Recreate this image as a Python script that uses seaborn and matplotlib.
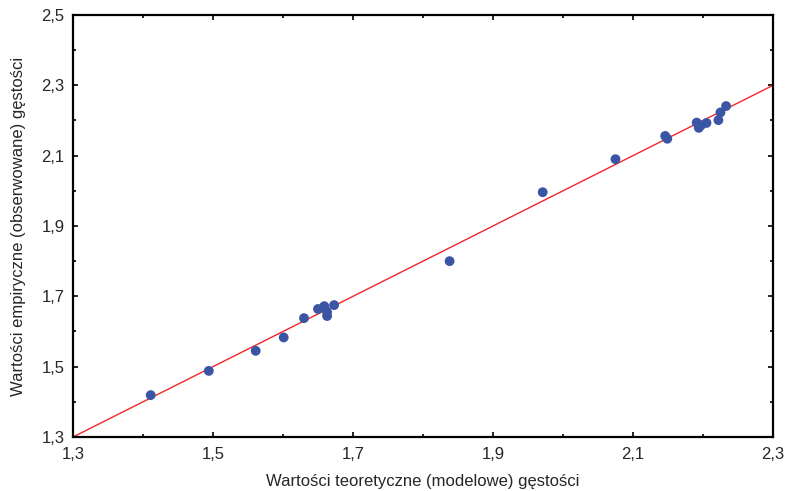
import matplotlib
matplotlib.use("Agg")
import matplotlib.pyplot as plt
import matplotlib.ticker as mticker
import seaborn as sns
import pandas as pd

# Values
teoretyczne = [1.411, 1.494, 1.561, 1.601, 1.630, 1.650, 1.659, 1.663, 1.663, 1.673,
               1.838, 1.971, 2.075, 2.146, 2.149, 2.191, 2.194, 2.197, 2.205, 2.222,
               2.225, 2.233]
empiryczne = [1.419, 1.488, 1.545, 1.583, 1.638, 1.664, 1.672, 1.655, 1.644, 1.675,
              1.800, 1.996, 2.090, 2.156, 2.148, 2.194, 2.179, 2.186, 2.193, 2.201,
              2.223, 2.241]

# Reference line y = a + b*x
line_a = 0.0
line_b = 1.0

x_ticks = [1.3, 1.5, 1.7, 1.9, 2.1, 2.3]
y_ticks = [1.3, 1.5, 1.7, 1.9, 2.1, 2.3, 2.5]

sns.set_style("ticks")
plt.rcParams["font.family"] = ["Liberation Sans", "DejaVu Sans"]

df = pd.DataFrame({"x": teoretyczne, "y": empiryczne})

fig = plt.figure(figsize=(7.96, 4.91), dpi=100)
ax = fig.add_axes([0.0917, 0.110, 0.8794, 0.8595])

ax.axline((0, line_a), slope=line_b, color="#f0262a", lw=1.0, zorder=2)
sns.scatterplot(data=df, x="x", y="y", ax=ax, color="#3a55a4", s=50,
                edgecolor="none", zorder=3)

ax.set_xlim(1.3, 2.3)
ax.set_ylim(1.3, 2.5)
ax.set_xticks(x_ticks)
ax.set_yticks(y_ticks)
ax.xaxis.set_minor_locator(mticker.MultipleLocator(0.1))
ax.yaxis.set_minor_locator(mticker.MultipleLocator(0.1))
fmt = mticker.FuncFormatter(lambda v, p: f"{v:.1f}".replace(".", ","))
ax.xaxis.set_major_formatter(fmt)
ax.yaxis.set_major_formatter(fmt)

ax.tick_params(which="both", direction="in", top=True, right=True,
               width=1.2, labelsize=12, color="black")
ax.tick_params(which="major", length=3.5)
ax.tick_params(axis="x", which="major", pad=7)
ax.tick_params(axis="y", which="major", pad=6)
ax.tick_params(which="minor", length=2.5)
for s in ax.spines.values():
    s.set_linewidth(1.6)
    s.set_color("black")

ax.set_xlabel("Wartości teoretyczne (modelowe) gęstości", fontsize=12, labelpad=9)
ax.set_ylabel("Wartości empiryczne (obserwowane) gęstości", fontsize=12, labelpad=11)

fig.savefig("out.png", dpi=100)
